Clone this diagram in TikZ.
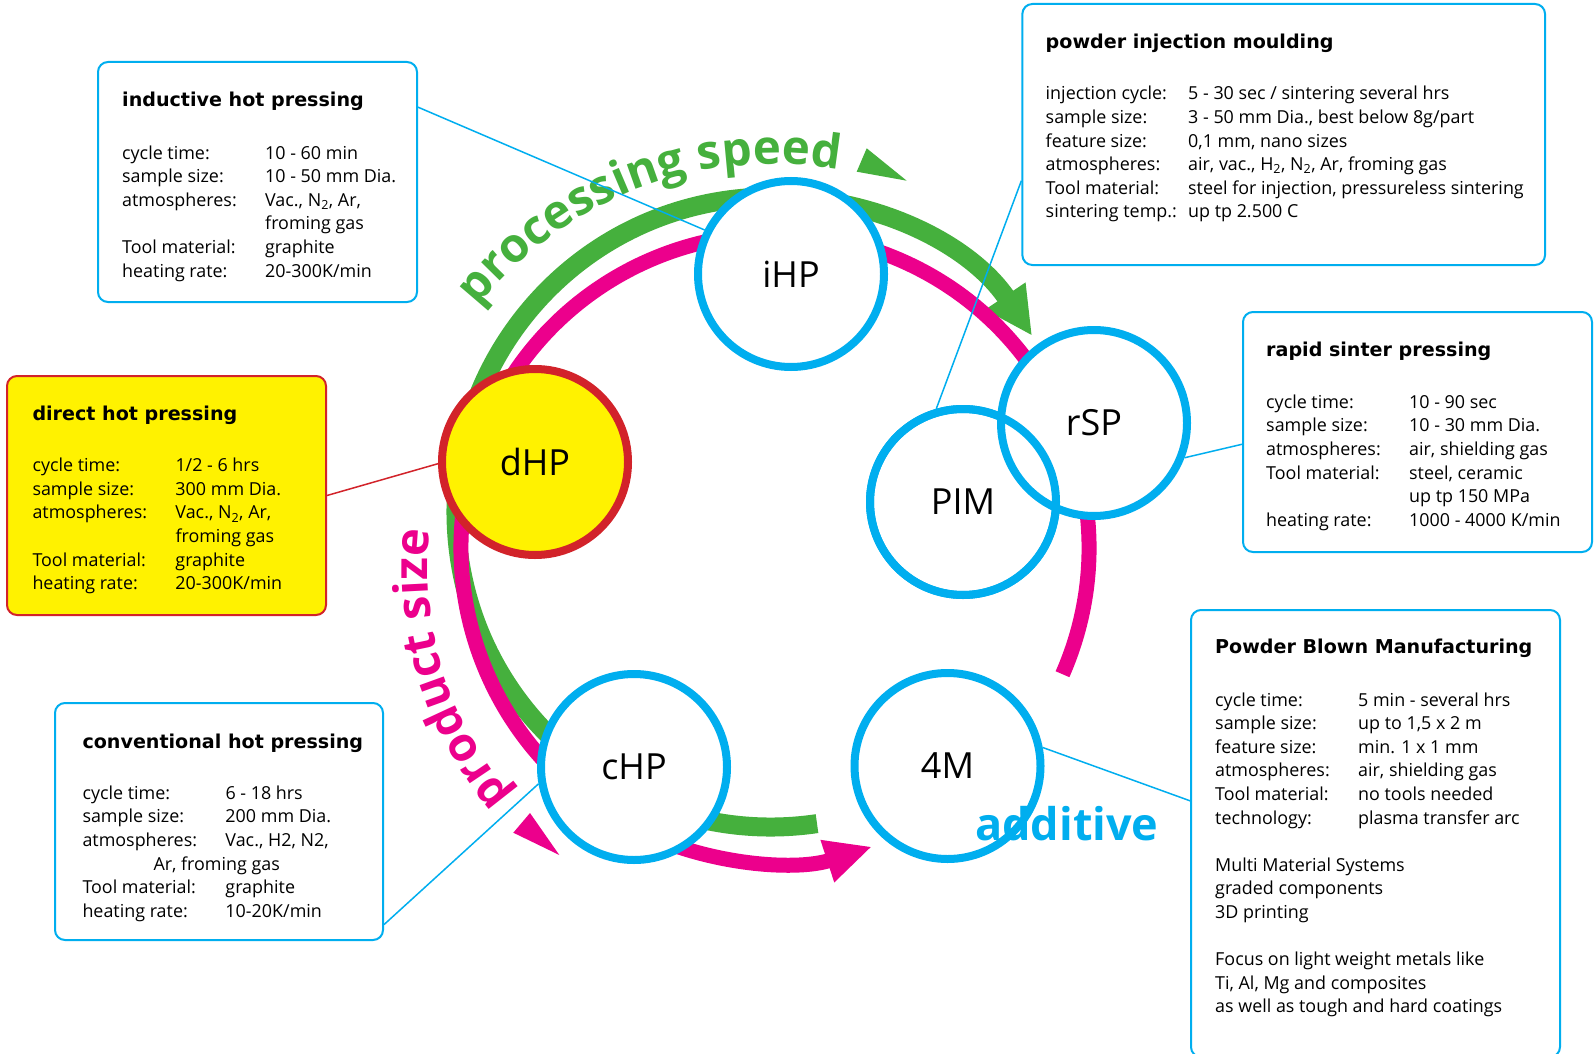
\documentclass[tikz,border=0pt]{standalone}
\usepackage{fontspec}
\setmainfont{Open Sans}
\newfontfamily\headfont{DejaVu Sans}
\newfontfamily\dispfont{Open Sans}
\usetikzlibrary{arrows.meta,calc,decorations.text}
\definecolor{cy}{HTML}{00AEEF}
\definecolor{gr}{HTML}{45B03D}
\definecolor{mg}{HTML}{EC008C}
\definecolor{yl}{HTML}{FFF200}
\definecolor{rd}{HTML}{D2232A}
\begin{document}
\begin{tikzpicture}[x=1pt,y=-1pt,
  infobox/.style={draw=cy, line width=2pt, rounded corners=10pt, fill=white, inner sep=0pt},
  circ/.style={circle, draw=cy, line width=8pt, fill=white, minimum size=186pt, inner sep=0pt, font=\fontsize{36}{40}\selectfont},
  conn/.style={draw=cy, line width=1.5pt},
  ttl/.style={anchor=base west, inner sep=0pt, font=\headfont\bfseries\fontsize{19.1}{22}\selectfont},
  bodytxt/.style={anchor=base west, inner sep=0pt, font=\fontsize{17.9}{23.6}\selectfont},
  disp/.style={font=\dispfont\bfseries\fontsize{45}{50}\selectfont}
]
\path[fill=white,use as bounding box] (0,0) rectangle (1595,1054);

% ring arcs
\draw[gr, line width=19pt, -{Triangle[length=48pt,width=45pt]}]
  ($(771,512)+(-278.4:315)$) arc[start angle=-278.4, end angle=-34, radius=315];
\draw[mg, line width=15pt, -{Triangle[length=47pt,width=41pt]}]
  ($(775,548)+(23.7:314)$) arc[start angle=23.7, end angle=-288, radius=314];

% small arrowheads
\fill[gr] (866.7,148.3) -- (906.7,180.7) -- (856.7,171.7) -- cycle;
\fill[mg] (530,813) -- (559.3,855) -- (513.3,832.7) -- cycle;

% curved labels
\path[decorate, decoration={text along path, text align=center,
  text={|\dispfont\bfseries\fontsize{47.5}{50}\selectfont\color{gr}|processing speed}}]
  ($(773,540)+(-150.8:376)$) arc[start angle=-150.8, end angle=-70.8, radius=376];
\path[decorate, decoration={text along path, text align=center,
  text={|\dispfont\bfseries\fontsize{47}{50}\selectfont\color{mg}|product size}}]
  ($(775,570)+(-230:347)$) arc[start angle=-230, end angle=-164, radius=347];

% boxes
\node[infobox, minimum width=319pt, minimum height=240pt] (b1) at (257.5,182) {};
\node[infobox, minimum width=522.7pt, minimum height=261pt] (b2) at (1283.7,134.5) {};
\node[infobox, draw=rd, fill=yl, minimum width=319pt, minimum height=239pt] (b3) at (166.5,495.5) {};
\node[infobox, minimum width=349pt, minimum height=240pt] (b4) at (1417.5,432) {};
\node[infobox, minimum width=369pt, minimum height=447pt] (b5) at (1375.5,833.5) {};
\node[infobox, minimum width=328pt, minimum height=237pt] (b6) at (219,821.5) {};

% circles
\node[circ] (ihp) at (791,274) {iHP};
\node[circ, draw=rd, fill=yl] (dhp) at (535,462) {dHP};
\node[circ] (chp) at (634,767) {cHP};
\node[circ] (m4) at (947.5,766) {4M};
\node[circ] (pim) at (963,502) {PIM};
\node[circ] (rsp) at (1094,423) {rSP};
\draw[cy, line width=8pt] (pim.center) circle[radius=93];

% connectors
\draw[conn] (b1.25) -- (ihp.153);
\draw[conn] (b2.190) -- (pim.106);
\draw[conn, draw=rd] (b3.east) -- (dhp.181);
\draw[conn] (rsp.-21) -- (b4.184);
\draw[conn] (m4.11) -- (b5.170);
\draw[conn] (chp.190) -- (b6.-32);

% box texts
\node[ttl] (t1) at (122,106.7) {inductive hot pressing};
\node[bodytxt] (x1) at (122,159.2) {\begin{tabular}[t]{@{}p{143pt}@{}l@{}}
cycle time: & 10 - 60 min\\
sample size: & 10 - 50 mm Dia.\\
atmospheres: & Vac., N\textsubscript{2}, Ar,\\
 & froming gas\\
Tool material: & graphite\\
heating rate: & 20-300K/min
\end{tabular}};

\node[ttl] (t2) at (1045.5,48.3) {powder injection moulding};
\node[bodytxt] (x2) at (1045.5,100) {\begin{tabular}[t]{@{}p{142.5pt}@{}l@{}}
injection cycle: & 5 - 30 sec / sintering several hrs\\
sample size: & 3 - 50 mm Dia., best below 8g/part\\
feature size: & 0,1 mm, nano sizes\\
atmospheres: & air, vac., H\textsubscript{2}, N\textsubscript{2}, Ar, froming gas\\
Tool material: & steel for injection, pressureless sintering\\
sintering temp.: & up tp 2.500 C
\end{tabular}};

\node[ttl] (t3) at (32.3,420) {direct hot pressing};
\node[bodytxt] (x3) at (32.3,471.7) {\begin{tabular}[t]{@{}p{143pt}@{}l@{}}
cycle time: & 1/2 - 6 hrs\\
sample size: & 300 mm Dia.\\
atmospheres: & Vac., N\textsubscript{2}, Ar,\\
 & froming gas\\
Tool material: & graphite\\
heating rate: & 20-300K/min
\end{tabular}};

\node[ttl] (t4) at (1266,356.7) {rapid sinter pressing};
\node[bodytxt] (x4) at (1266,408.3) {\begin{tabular}[t]{@{}p{143pt}@{}l@{}}
cycle time: & 10 - 90 sec\\
sample size: & 10 - 30 mm Dia.\\
atmospheres: & air, shielding gas\\
Tool material: & steel, ceramic\\
 & up tp 150 MPa\\
heating rate: & 1000 - 4000 K/min
\end{tabular}};

\node[ttl] (t5) at (1215,653.3) {Powder Blown Manufacturing};
\node[bodytxt] (x5) at (1215,706) {\begin{tabular}[t]{@{}p{143pt}@{}l@{}}
cycle time: & 5 min - several hrs\\
sample size: & up to 1,5 x 2 m\\
feature size: & min. 1 x 1 mm\\
atmospheres: & air, shielding gas\\
Tool material: & no tools needed\\
technology: & plasma transfer arc\\
 & \\
\multicolumn{2}{@{}l@{}}{Multi Material Systems}\\
\multicolumn{2}{@{}l@{}}{graded components}\\
\multicolumn{2}{@{}l@{}}{3D printing}\\
 & \\
\multicolumn{2}{@{}l@{}}{Focus on light weight metals like}\\
\multicolumn{2}{@{}l@{}}{Ti, Al, Mg and composites}\\
\multicolumn{2}{@{}l@{}}{as well as tough and hard coatings}
\end{tabular}};

\node[ttl] (t6) at (82.3,748.3) {conventional hot pressing};
\node[bodytxt] (x6) at (82.3,799.3) {\begin{tabular}[t]{@{}p{143pt}@{}l@{}}
cycle time: & 6 - 18 hrs\\
sample size: & 200 mm Dia.\\
atmospheres: & Vac., H2, N2,\\
\multicolumn{2}{@{}l@{}}{\hspace*{71pt}Ar, froming gas}\\
Tool material: & graphite\\
heating rate: & 10-20K/min
\end{tabular}};

% additive label
\node[disp, anchor=base west, inner sep=0pt, text=cy] (add) at (975,840) {additive};
\end{tikzpicture}
\end{document}
